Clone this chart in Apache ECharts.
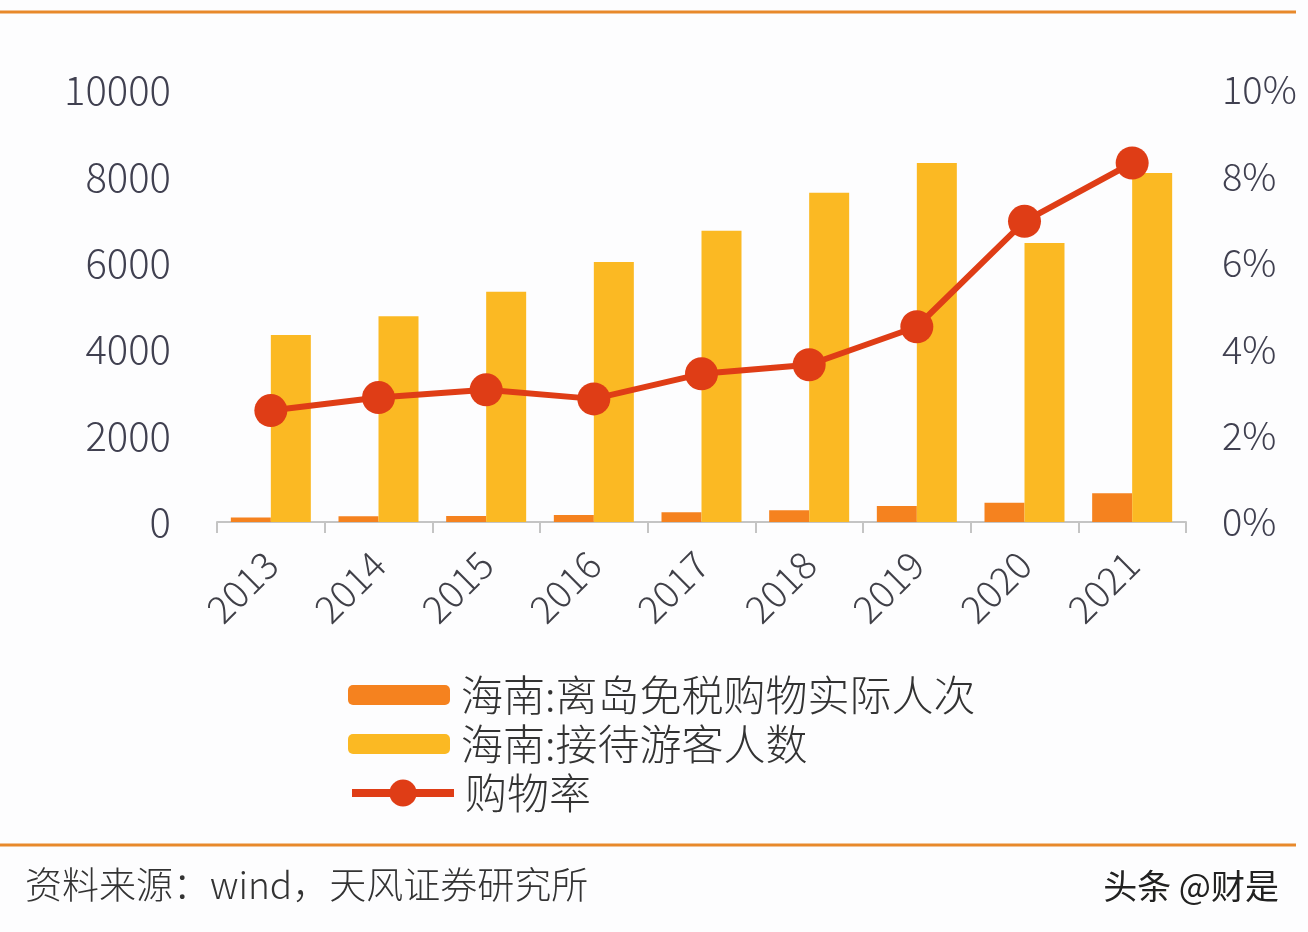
<!DOCTYPE html>
<html>
<head>
<meta charset="utf-8">
<script src="https://cdn.jsdelivr.net/npm/echarts@6/dist/echarts.min.js"></script>
<style>
html,body{margin:0;padding:0;background:#fdfdfe;}
#chart{width:1308px;height:932px;}
</style>
</head>
<body>
<div id="chart"></div>
<script>
const categories = ['2013','2014','2015','2016','2017','2018','2019','2020','2021'];
const shoppers = [105, 132, 140, 162, 225, 272, 370, 448, 668];
const tourists = [4330, 4760, 5330, 6020, 6740, 7620, 8310, 6460, 8080];
const shopRate = [2.58, 2.88, 3.06, 2.85, 3.43, 3.64, 4.52, 6.96, 8.31];
const leftTicks = {min: 0, max: 10000, interval: 2000};
const rightTicks = {min: 0, max: 10, interval: 2};
const seriesNames = ['海南:离岛免税购物实际人次', '海南:接待游客人数', '购物率'];

const labelFont = '"Noto Sans CJK SC", "Noto Sans", sans-serif';
const chart = echarts.init(document.getElementById('chart'));
chart.setOption({
  backgroundColor: '#fdfdfe',
  animation: false,
  grid: {left: 217, right: 122, top: 90, bottom: 410},
  legend: [{
    orient: 'vertical', left: 343, top: 669,
    itemWidth: 102, itemHeight: 20, itemGap: 7,
    textStyle: {fontSize: 42, color: '#333', fontFamily: labelFont, fontWeight: 300, padding: [0, 0, 0, 6]},
    data: [seriesNames[0], seriesNames[1]]
  }, {
    orient: 'vertical', left: 343, top: 767,
    itemWidth: 102, itemHeight: 34, itemGap: 10,
    lineStyle: {width: 8},
    textStyle: {fontSize: 42, color: '#333', fontFamily: labelFont, fontWeight: 300, padding: [0, 0, 0, 6]},
    data: [seriesNames[2]]
  }],
  xAxis: {
    type: 'category', data: categories,
    axisLine: {lineStyle: {color: '#c4c4c4', width: 2}},
    axisTick: {show: true, length: 11, lineStyle: {color: '#c4c4c4', width: 2}},
    axisLabel: {rotate: 45, fontSize: 38, color: '#404048', margin: 36, fontFamily: labelFont, fontWeight: 300}
  },
  yAxis: [{
    type: 'value', min: leftTicks.min, max: leftTicks.max, interval: leftTicks.interval,
    axisLine: {show: false}, axisTick: {show: false}, splitLine: {show: false},
    axisLabel: {fontSize: 40, color: '#404050', margin: 46, formatter: v => String(v), fontFamily: labelFont, fontWeight: 300}
  }, {
    type: 'value', min: rightTicks.min, max: rightTicks.max, interval: rightTicks.interval,
    axisLine: {show: false}, axisTick: {show: false}, splitLine: {show: false},
    axisLabel: {fontSize: 38, color: '#404050', margin: 36, formatter: '{value}%', fontFamily: labelFont, fontWeight: 300}
  }],
  series: [{
    name: seriesNames[0], type: 'bar', data: shoppers,
    barWidth: 40, barGap: '0%',
    itemStyle: {color: '#f5821f'}
  }, {
    name: seriesNames[1], type: 'bar', data: tourists,
    barWidth: 40, barGap: '0%',
    itemStyle: {color: '#fbb923'}
  }, {
    name: seriesNames[2], type: 'line', yAxisIndex: 1, data: shopRate,
    symbol: 'circle', symbolSize: 33,
    lineStyle: {color: '#df3d16', width: 6},
    itemStyle: {color: '#df3d16'}
  }],
  graphic: [
    {type: 'line', shape: {x1: 0, y1: 12, x2: 1296, y2: 12}, style: {stroke: '#e8892b', lineWidth: 3}},
    {type: 'line', shape: {x1: 0, y1: 845, x2: 1296, y2: 845}, style: {stroke: '#e8892b', lineWidth: 3}},
    {type: 'text', left: 25, top: 866, style: {text: '资料来源：wind，天风证券研究所', fontSize: 37, fill: '#333', fontFamily: labelFont, fontWeight: 300}},
    {type: 'text', right: 28, top: 868, style: {text: '头条 @财是', fontSize: 34, fill: '#222', fontFamily: labelFont, stroke: '#fff', lineWidth: 2}}
  ]
});
</script>
</body>
</html>
